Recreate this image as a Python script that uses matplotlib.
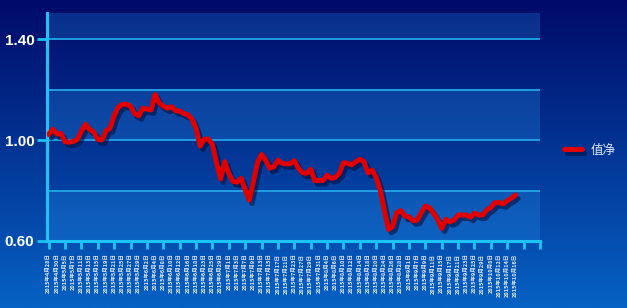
import numpy as np
import pandas as pd
import matplotlib
matplotlib.use('Agg')
import matplotlib.pyplot as plt
import matplotlib.patheffects as pe

plt.rcParams['font.family'] = ['Noto Sans CJK SC', 'DejaVu Sans']

# trading days 2015-04-28 .. 2015-10-16 (weekends and market holidays out)
holidays = ['2015-05-01', '2015-06-22', '2015-09-03', '2015-09-04',
            '2015-10-01', '2015-10-02', '2015-10-05', '2015-10-06', '2015-10-07']
days = pd.bdate_range('2015-04-28', '2015-10-16')
days = days[~days.isin(pd.to_datetime(holidays))]
date_labels = [f'{d.year}年{d.month}月{d.day}日' for d in days]

nav = [1.022, 1.043, 1.024, 1.026, 0.993, 0.991, 0.994, 1.002, 1.035, 1.062,
       1.042, 1.032, 1.002, 1.000, 1.036, 1.047, 1.097, 1.130, 1.141, 1.142,
       1.134, 1.104, 1.096, 1.126, 1.122, 1.119, 1.180, 1.147, 1.134, 1.126,
       1.132, 1.116, 1.115, 1.105, 1.100, 1.083, 1.046, 0.976, 1.003, 1.004,
       0.982, 0.909, 0.846, 0.914, 0.868, 0.836, 0.833, 0.848, 0.803, 0.762,
       0.835, 0.910, 0.943, 0.921, 0.888, 0.894, 0.920, 0.908, 0.905, 0.906,
       0.918, 0.888, 0.870, 0.868, 0.884, 0.839, 0.840, 0.839, 0.861, 0.848,
       0.852, 0.868, 0.910, 0.908, 0.901, 0.914, 0.924, 0.914, 0.870, 0.881,
       0.852, 0.800, 0.720, 0.646, 0.657, 0.712, 0.720, 0.699, 0.696, 0.680,
       0.683, 0.712, 0.738, 0.732, 0.710, 0.686, 0.650, 0.686, 0.676, 0.683,
       0.703, 0.703, 0.703, 0.694, 0.710, 0.703, 0.703, 0.723, 0.733, 0.752,
       0.752, 0.747, 0.760, 0.769, 0.782]

y_ticks = [0.60, 1.00, 1.40]
grid_levels = [0.8, 1.0, 1.2, 1.4]
bands = [(0.6, 0.8), (1.0, 1.2), (1.4, 1.503)]
series_name = '值净'

cyan = '#1cc4f4'

fig = plt.figure(figsize=(6.27, 3.08), dpi=100)

# background gradient
bg = fig.add_axes([0, 0, 1, 1], zorder=0)
top = np.array([0, 10, 104]) / 255
bot = np.array([6, 98, 196]) / 255
t = np.linspace(0, 1, 256)[:, None]
grad = top + (bot - top) * t
bg.imshow(grad[:, None, :].repeat(2, axis=1), aspect='auto', extent=[0, 1, 0, 1])
bg.axis('off')

ax = fig.add_axes([47/627, 1 - 241/308, (540 - 47)/627, (241 - 13)/308], zorder=1)
ax.patch.set_alpha(0)

for lo, hi in bands:
    ax.axhspan(lo, hi, color='#30a8ff', alpha=0.22, lw=0)
for g in grid_levels:
    ax.axhline(g, color='#22a6e8', lw=1.3, zorder=1)

x = np.arange(len(nav))
ax.plot(x, nav, color='#e00000', lw=3.6, solid_capstyle='round', solid_joinstyle='round',
        label=series_name, zorder=3,
        path_effects=[pe.SimpleLineShadow(offset=(2, -2.5), shadow_color='#001040', alpha=0.6),
                      pe.Normal()])

ax.set_xlim(-0.4, 120)
ax.set_ylim(0.6, 1.503)

for s in ['top', 'right']:
    ax.spines[s].set_visible(False)
for s in ['left', 'bottom']:
    ax.spines[s].set_color(cyan)
    ax.spines[s].set_linewidth(2.2)

ax.set_yticks(y_ticks)
ax.set_yticklabels([f'{v:.2f}' for v in y_ticks], fontfamily='Liberation Sans',
                   fontweight='bold', fontsize=11, color='white')
ax.tick_params(axis='y', length=7, width=2, color=cyan, pad=2)

ax.xaxis.remove_overlapping_locs = False
ax.set_xticks(np.arange(0, 121, 4))
ax.set_xticklabels([])
ax.tick_params(axis='x', which='major', length=6, width=2, color=cyan)
ax.set_xticks(x[::2], minor=True)
ax.set_xticklabels(date_labels[::2], minor=True, rotation=90, fontsize=4,
                   color='#e4ecff', fontweight='bold', va='top', ha='center')
ax.tick_params(axis='x', which='minor', length=0, pad=9)

leg = fig.legend(loc='center left', bbox_to_anchor=(564/627, 1 - 150/308),
                 frameon=False, fontsize=9, handlelength=1.4, handletextpad=0.7,
                 borderpad=0, borderaxespad=0, labelcolor='#dde6ff')

fig.savefig('out.png', dpi=100)
